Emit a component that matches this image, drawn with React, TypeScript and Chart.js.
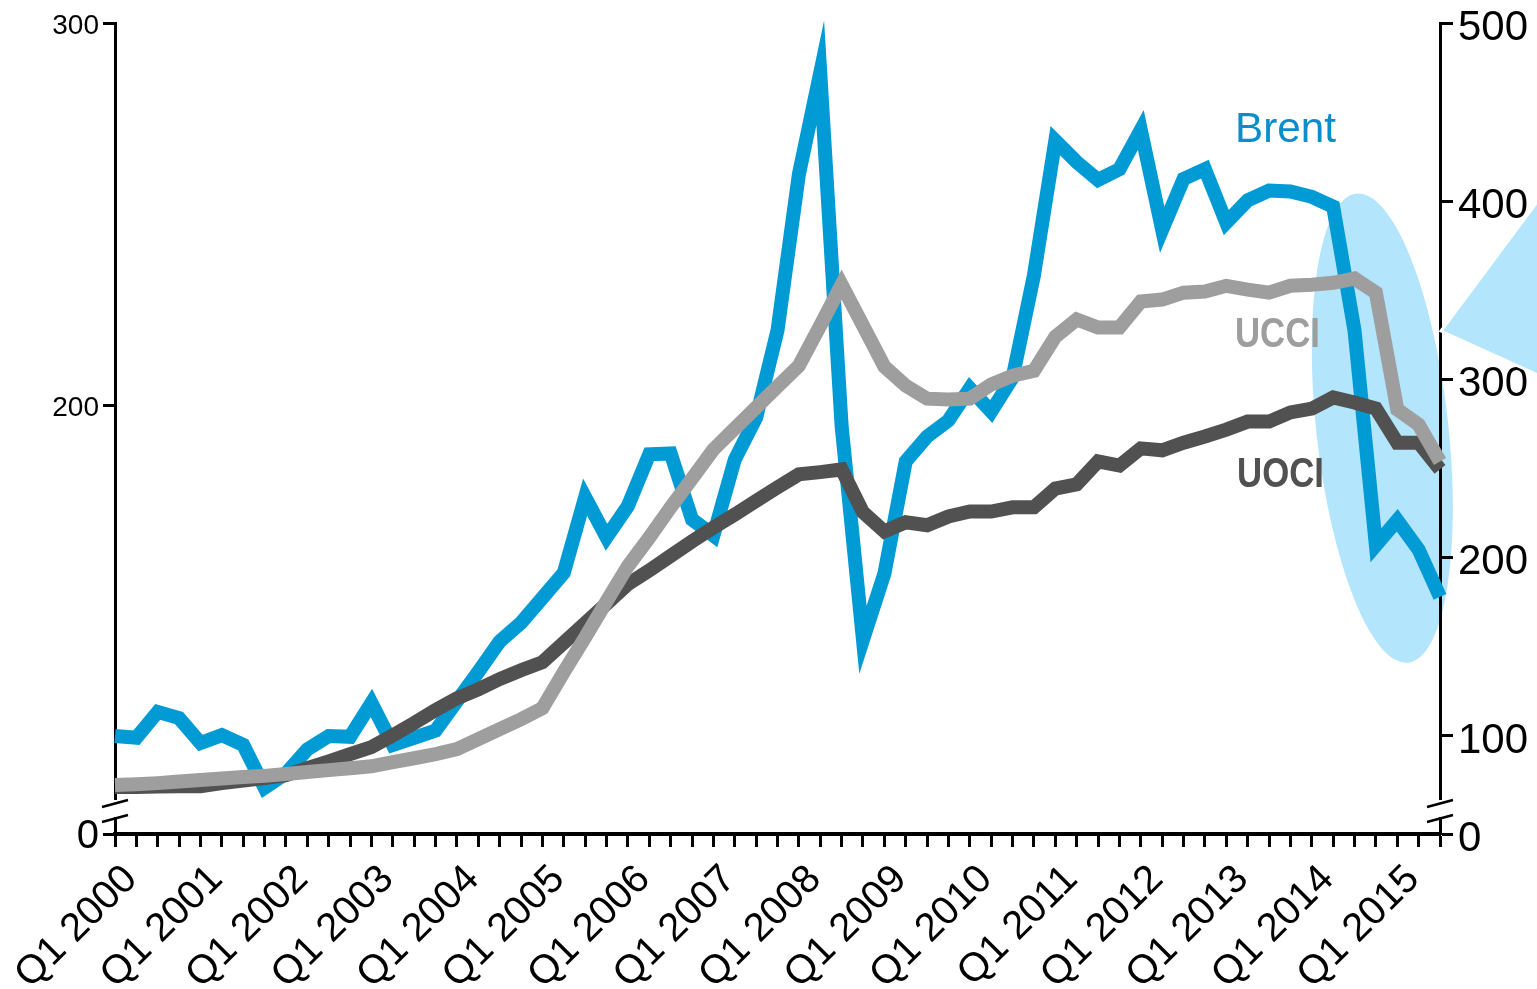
import React, { useEffect, useRef } from 'react';
import { Chart, registerables } from 'chart.js';

Chart.register(...registerables);

const quarters: string[] = [
  'Q1 2000', 'Q2 2000', 'Q3 2000', 'Q4 2000',
  'Q1 2001', 'Q2 2001', 'Q3 2001', 'Q4 2001',
  'Q1 2002', 'Q2 2002', 'Q3 2002', 'Q4 2002',
  'Q1 2003', 'Q2 2003', 'Q3 2003', 'Q4 2003',
  'Q1 2004', 'Q2 2004', 'Q3 2004', 'Q4 2004',
  'Q1 2005', 'Q2 2005', 'Q3 2005', 'Q4 2005',
  'Q1 2006', 'Q2 2006', 'Q3 2006', 'Q4 2006',
  'Q1 2007', 'Q2 2007', 'Q3 2007', 'Q4 2007',
  'Q1 2008', 'Q2 2008', 'Q3 2008', 'Q4 2008',
  'Q1 2009', 'Q2 2009', 'Q3 2009', 'Q4 2009',
  'Q1 2010', 'Q2 2010', 'Q3 2010', 'Q4 2010',
  'Q1 2011', 'Q2 2011', 'Q3 2011', 'Q4 2011',
  'Q1 2012', 'Q2 2012', 'Q3 2012', 'Q4 2012',
  'Q1 2013', 'Q2 2013', 'Q3 2013', 'Q4 2013',
  'Q1 2014', 'Q2 2014', 'Q3 2014', 'Q4 2014',
  'Q1 2015', 'Q2 2015', 'Q3 2015',
];

// Brent (right axis, index)
const brent: number[] = [
  100, 99, 113.5, 110, 96, 100.5, 95, 71, 79, 92.5, 100, 99.5, 118.5, 95, 99, 103,
  119.5, 136, 153, 163.5, 177.5, 191.5, 234, 211.5, 229, 258, 258.5, 221.5, 212.5, 255, 278.5, 327.5,
  415, 472, 274, 154, 191, 254, 268, 277, 295, 282, 301, 358.5, 434, 422, 412, 418,
  440, 384, 412.5, 418, 388, 400.5, 406, 405.5, 402.5, 397, 327.5, 207, 221, 204.5, 178,
];

// UCCI (left axis)
const ucci: number[] = [
  100.8, 101, 101.3, 101.7, 102.1, 102.5, 102.9, 103.2, 103.7, 104.2, 104.7, 105.2, 105.7,
  106.8, 107.8, 108.9, 110.2, 112.8, 115.4, 118, 120.9,
  130.3, 139.4, 148.8, 158, 165.5, 173.4, 180.9, 188.5,
  194, 199.5, 205, 210.4, 220.9, 231.6,
  220.9, 210.2, 205.2, 201.8, 201.6, 201.8, 205.5, 207.8, 209.1,
  218, 222.5, 220.4, 220.4, 227.2, 227.7, 229.5, 229.8, 231.3, 230.3, 229.5, 231.3, 231.6, 232.1, 233.2,
  229.5, 199, 195, 185.4,
];

// UOCI (left axis)
const uoci: number[] = [
  100.3, 100.3, 100.4, 100.5, 100.5, 101.3, 102, 102.6, 103.4, 105.2, 107, 108.9, 110.7,
  113.8, 117, 120.4, 123.5, 125.8, 128.5, 130.8, 132.9,
  138, 143.1, 148.2, 153.3, 156.9, 160.7, 164.5, 168.1,
  171.5, 175.1, 178.6, 182, 182.6, 183.3,
  172.1, 167.1, 169.5, 168.7, 171, 172.3, 172.3, 173.4, 173.4,
  178.3, 179.4, 185.4, 184.3, 188.8, 188.3, 190.3, 191.9, 193.7, 195.8, 195.8, 198.2, 199.2, 202.1, 200.8,
  199.2, 190.3, 190.3, 183.3,
];

const leftTickValues: number[] = [88, 200, 300];
const leftTickLabels: string[] = ['0', '200', '300'];
const rightTickValues: number[] = [45, 100, 200, 300, 400, 500];
const rightTickLabels: string[] = ['0', '100', '200', '300', '400', '500'];

const LEFT_MIN = 88;
const LEFT_MAX = 300;
const RIGHT_MIN = 45;
const RIGHT_MAX = 500;

const BLUE = '#009bd4';
const GRAY = '#9e9e9e';
const DARK = '#515151';
const HL_COLOR = '#b3e5fc';
const FONT = '"Liberation Sans", Arial, sans-serif';

// highlight ellipse anchored in data space
const HL_INDEX = 59.3;
const HL_VALUE = 272.7;

const decorPlugin = {
  id: 'decor',
  beforeDraw(chart: any) {
    const { ctx, scales } = chart;
    ctx.save();
    ctx.fillStyle = '#ffffff';
    ctx.fillRect(0, 0, chart.width, chart.height);
    const cx = scales.x.getPixelForValue(HL_INDEX);
    const cy = scales.yR.getPixelForValue(HL_VALUE);
    ctx.beginPath();
    ctx.ellipse(cx, cy, 66, 236, -0.11, 0, Math.PI * 2);
    ctx.fillStyle = HL_COLOR;
    ctx.fill();
    ctx.restore();
  },
  afterDraw(chart: any) {
    const { ctx, chartArea } = chart;
    const b = chartArea.bottom;
    ctx.save();
    for (const ax of [chartArea.left, chartArea.right]) {
      ctx.fillStyle = '#ffffff';
      ctx.fillRect(ax - 4, b - 34, 8, 17);
      ctx.strokeStyle = '#000';
      ctx.lineWidth = 2.5;
      ctx.beginPath();
      ctx.moveTo(ax - 13, b - 27);
      ctx.lineTo(ax + 13, b - 34);
      ctx.moveTo(ax - 13, b - 12);
      ctx.lineTo(ax + 13, b - 19);
      ctx.stroke();
    }
    // callout pointer
    ctx.beginPath();
    ctx.moveTo(chartArea.right + 1, 331);
    ctx.lineTo(1540, 198);
    ctx.lineTo(1540, 376);
    ctx.closePath();
    ctx.fillStyle = HL_COLOR;
    ctx.fill();
    ctx.strokeStyle = '#ffffff';
    ctx.lineWidth = 3;
    ctx.stroke();

    const drawLabel = (text: string, x: number, y: number, color: string, weight: string, width: number) => {
      ctx.font = `${weight} 42px ${FONT}`;
      ctx.fillStyle = color;
      ctx.textAlign = 'left';
      ctx.textBaseline = 'alphabetic';
      const w = ctx.measureText(text).width;
      ctx.save();
      ctx.translate(x, y);
      ctx.scale(width / w, 1);
      ctx.fillText(text, 0, 0);
      ctx.restore();
    };
    drawLabel('Brent', 1235, 142, '#0a8dcc', 'normal', 101);
    drawLabel('UCCI', 1235, 347, GRAY, 'bold', 85);
    drawLabel('UOCI', 1237, 487, DARK, 'bold', 87);
    ctx.restore();
  },
};

export default function App() {
  const ref = useRef<HTMLCanvasElement>(null);
  useEffect(() => {
    if (!ref.current) return;
    const common = {
      pointRadius: 0,
      borderWidth: 14,
      tension: 0,
      clip: false as any,
      borderJoinStyle: 'miter' as const,
      borderCapStyle: 'butt' as const,
      fill: false,
    };
    const noPad = (s: any) => { s.paddingTop = 0; s.paddingBottom = 0; };
    const chart = new Chart(ref.current, {
      type: 'line',
      data: {
        labels: quarters,
        datasets: [
          { label: 'UCCI', data: ucci, yAxisID: 'yL', borderColor: GRAY, ...common },
          { label: 'UOCI', data: uoci, yAxisID: 'yL', borderColor: DARK, ...common },
          { label: 'Brent', data: brent, yAxisID: 'yR', borderColor: BLUE, ...common },
        ],
      },
      options: {
        responsive: false,
        animation: false,
        devicePixelRatio: 1,
        layout: { autoPadding: false, padding: { top: 23, left: 0, right: 0, bottom: 0 } },
        plugins: { legend: { display: false }, tooltip: { enabled: false } },
        scales: {
          x: {
            type: 'category',
            offset: false,
            grid: { display: true, drawOnChartArea: false, drawTicks: true, tickLength: 13, tickWidth: 3, tickColor: '#000' },
            border: { display: true, color: '#000', width: 4 },
            ticks: {
              autoSkip: false,
              maxRotation: 45,
              minRotation: 45,
              color: '#000',
              padding: 9,
              labelOffset: 16,
              font: { family: FONT, size: 40 },
              callback: (_v: any, i: number) => (i % 4 === 0 ? quarters[i] : ''),
            },
            afterFit: (s: any) => { s.height = 155; s.paddingLeft = 0; s.paddingRight = 0; },
          },
          yL: {
            type: 'linear',
            position: 'left',
            min: LEFT_MIN,
            max: LEFT_MAX,
            afterBuildTicks: (s: any) => { s.ticks = leftTickValues.map((v) => ({ value: v })); },
            grid: { display: true, drawOnChartArea: false, drawTicks: true, tickLength: 12, tickWidth: 3, tickColor: '#000' },
            border: { display: true, color: '#000', width: 3 },
            ticks: {
              color: '#000',
              padding: 4,
              labelOffset: 3,
              font: (c: any) => (c.tick && c.tick.value === LEFT_MIN ? { family: FONT, size: 40 } : { family: FONT, size: 28 }),
              callback: (v: any) => leftTickLabels[leftTickValues.indexOf(Number(v))] ?? '',
            },
            afterFit: (s: any) => { s.width = 115; noPad(s); },
          },
          yR: {
            type: 'linear',
            position: 'right',
            min: RIGHT_MIN,
            max: RIGHT_MAX,
            afterBuildTicks: (s: any) => { s.ticks = rightTickValues.map((v) => ({ value: v })); },
            grid: { display: true, drawOnChartArea: false, drawTicks: true, tickLength: 13, tickWidth: 3, tickColor: '#000' },
            border: { display: true, color: '#000', width: 3 },
            ticks: {
              color: '#000',
              padding: 5,
              labelOffset: 5,
              font: { family: FONT, size: 42 },
              callback: (v: any) => rightTickLabels[rightTickValues.indexOf(Number(v))] ?? '',
            },
            afterFit: (s: any) => { s.width = 97; noPad(s); },
          },
        },
      } as any,
      plugins: [decorPlugin],
    });
    return () => chart.destroy();
  }, []);
  return (
    <div style={{ position: 'fixed', left: 0, top: 0, width: 1537, height: 989, background: '#fff' }}>
      <canvas ref={ref} width={1537} height={989} style={{ width: 1537, height: 989, display: 'block' }} />
    </div>
  );
}
